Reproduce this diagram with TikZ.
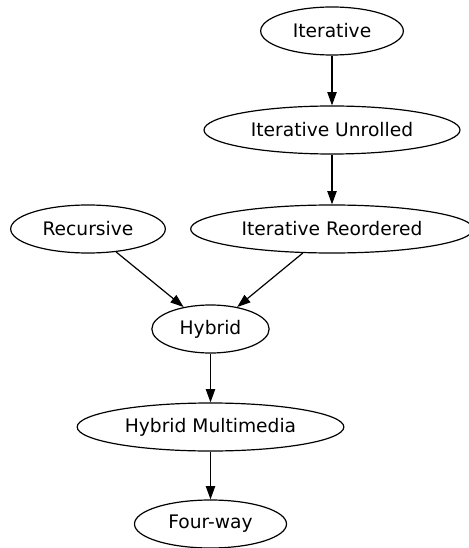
\documentclass[tikz,border=0pt]{standalone}
\usepackage{fontspec}
\setmainfont{DejaVu Sans}
\usetikzlibrary{shapes.geometric,arrows.meta}

\begin{document}
\begin{tikzpicture}[x=0.75pt,y=-0.75pt,>={Triangle[length=10pt,width=7pt]},
		every node/.style={ellipse,draw,line width=0.9pt,inner sep=0pt,minimum height=36pt,font=\fontsize{14pt}{16pt}\selectfont},
		edge/.style={->,line width=0.9pt}]
		\useasboundingbox (0,0) rectangle (468,548);
		\node[minimum width=107pt] (iter) at (332,31) {Iterative};
		\node[minimum width=192pt] (unrolled) at (332,130) {Iterative Unrolled};
		\node[minimum width=212pt] (reordered) at (332,229) {Iterative Reordered};
		\node[minimum width=116pt] (rec) at (88,229) {Recursive};
		\node[minimum width=88pt] (hybrid) at (210.5,329) {Hybrid};
		\node[minimum width=200pt] (multi) at (210.5,427) {Hybrid Multimedia};
		\node[minimum width=114pt] (four) at (210.5,524) {Four-way};
		\draw[edge] (iter) -- (unrolled);
		\draw[edge] (unrolled) -- (reordered);
		\draw[edge] (rec) -- (hybrid);
		\draw[edge] (reordered) -- (hybrid);
		\draw[edge] (hybrid) -- (multi);
		\draw[edge] (multi) -- (four);
		\end{tikzpicture}
\end{document}
